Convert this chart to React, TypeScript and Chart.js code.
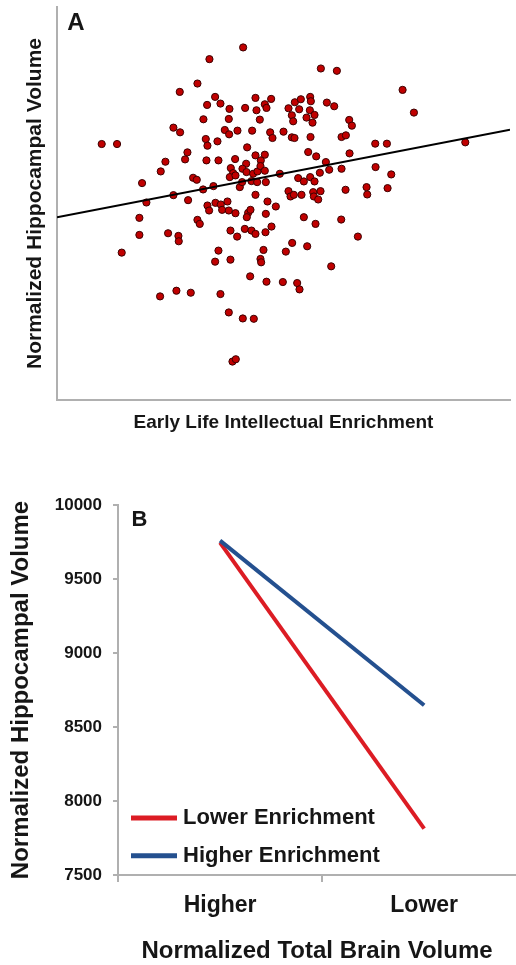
import React, { useEffect, useRef } from 'react';
import { Chart, registerables } from 'chart.js';

Chart.register(...registerables);

const FONT = '"Liberation Sans", Arial, Helvetica, sans-serif';
const TEXT = '#161616';
const AXIS_GRAY = '#b0b0b0';

// ---------- Panel A: scatter ----------
const enrichmentScores = [
  55.8, 45.7, 79.1, 83.9, 42.1, 36.8, 103.6, 47.4, 59.5, 64.2,
  45.0, 49.0, 51.7, 56.4, 59.8, 62.3, 62.8, 69.4, 71.3, 73.1,
  75.9, 76.1, 72.6, 75.8, 80.9, 83.1, 107.0, 70.4, 74.8, 77.2,
  43.9, 51.5, 60.8, 70.8, 76.6, 87.6, 88.4, 34.9, 36.9, 50.3,
  51.6, 54.1, 58.5, 63.9, 64.6, 67.9, 70.4, 71.2, 76.0, 85.3,
  86.6, 13.4, 18.0, 44.6, 45.1, 48.1, 57.0, 95.4, 98.9, 122.4,
  39.1, 38.4, 32.5, 31.1, 44.8, 48.4, 53.4, 56.7, 59.5, 62.3,
  61.1, 75.3, 77.7, 87.7, 80.6, 81.6, 85.3, 95.5, 100.2, 78.8,
  52.1, 52.8, 51.8, 53.5, 55.6, 56.8, 58.8, 60.1, 61.0, 62.3,
  66.8, 40.8, 41.9, 25.5, 43.8, 46.9, 54.8, 55.5, 58.3, 60.0,
  62.6, 72.3, 74.0, 75.9, 77.2, 69.4, 70.0, 71.0, 73.3, 76.8,
  77.0, 78.3, 79.0, 86.5, 92.8, 93.0, 99.1, 34.9, 26.8, 39.3,
  59.5, 45.1, 45.6, 47.5, 49.1, 49.5, 51.1, 51.5, 53.5, 57.3,
  58.0, 56.9, 63.1, 65.6, 62.6, 24.7, 42.1, 42.8, 74.0, 77.5,
  85.2, 24.7, 33.3, 36.4, 36.5, 52.0, 54.0, 56.3, 58.3, 59.5,
  62.5, 64.3, 90.2, 19.4, 48.4, 61.9, 70.5, 68.6, 75.0, 47.4,
  52.0, 61.0, 61.2, 82.2, 57.9, 62.8, 67.7, 72.0, 72.7, 30.9,
  35.8, 40.1, 49.0, 51.5, 55.7, 59.0, 52.6, 53.6,
];
const hippocampalVolumes = [
  105.5, 102.0, 99.2, 98.5, 94.7, 92.2, 92.8, 90.7, 90.4, 90.1,
  88.3, 88.7, 87.1, 87.4, 86.7, 88.5, 87.4, 87.3, 89.1, 90.0,
  90.7, 89.4, 87.0, 86.7, 89.0, 87.9, 86.0, 85.2, 84.5, 85.3,
  84.0, 84.1, 83.9, 83.4, 83.0, 83.8, 82.1, 81.5, 80.1, 80.8,
  79.5, 80.6, 80.6, 80.1, 78.4, 80.3, 78.6, 78.4, 78.7, 78.7,
  79.2, 76.6, 76.6, 78.1, 76.1, 77.4, 75.6, 76.7, 76.7, 77.1,
  74.1, 72.0, 71.3, 68.4, 71.7, 71.7, 72.1, 70.7, 73.2, 73.4,
  71.7, 74.2, 72.9, 73.8, 71.2, 68.9, 69.2, 69.7, 67.5, 68.0,
  69.4, 67.9, 66.7, 67.2, 69.2, 68.2, 67.7, 68.4, 70.0, 68.6,
  67.7, 66.5, 65.9, 64.9, 63.0, 64.0, 63.7, 65.2, 65.5, 65.2,
  65.2, 66.4, 65.4, 66.7, 65.4, 62.5, 60.9, 61.4, 61.4, 62.2,
  60.9, 60.0, 62.5, 62.9, 63.7, 61.5, 63.4, 61.3, 59.1, 59.8,
  61.4, 58.2, 56.7, 59.0, 58.5, 56.9, 59.4, 56.7, 55.9, 56.0,
  56.9, 54.7, 59.4, 57.9, 55.7, 54.5, 53.9, 52.7, 54.7, 52.7,
  54.0, 49.4, 49.9, 49.1, 47.5, 50.7, 48.9, 51.2, 50.7, 49.7,
  50.2, 51.9, 48.9, 44.1, 44.7, 44.9, 47.0, 44.4, 46.0, 41.4,
  42.0, 42.2, 41.2, 40.0, 37.0, 35.4, 35.3, 35.0, 33.1, 31.0,
  32.7, 32.1, 31.7, 26.2, 24.4, 24.3, 11.5, 12.2,
];
const trendX = [0, 135.8];
const trendY = [54.7, 80.9];
const axisRangeA = { xMin: 0, xMax: 135.8, yMin: 0, yMax: 117.6 };

// ---------- Panel B: interaction lines ----------
const brainVolumeGroups = ['Higher', 'Lower'];
const lowerEnrichment = [9746, 7813];
const higherEnrichment = [9759, 8647];
const yTicksB = [7500, 8000, 8500, 9000, 9500, 10000];
const xTickPositions = [-0.5, 0, 0.5, 1];

const panelLabelPlugin = {
  id: 'panelLabel',
  afterDraw(chart: any, _args: any, opts: any) {
    const { ctx, chartArea } = chart;
    ctx.save();
    ctx.font = `bold ${opts.size}px ${FONT}`;
    ctx.fillStyle = TEXT;
    ctx.textAlign = 'center';
    ctx.textBaseline = 'middle';
    ctx.fillText(opts.text, chartArea.left + opts.dx, chartArea.top + opts.dy);
    ctx.restore();
  },
};

const insideLegendPlugin = {
  id: 'insideLegend',
  afterDatasetsDraw(chart: any, _args: any, opts: any) {
    const { ctx, chartArea } = chart;
    chart.data.datasets.forEach((ds: any, i: number) => {
      const y = chartArea.bottom - opts.rows[i];
      const x0 = chartArea.left + opts.dx;
      ctx.save();
      ctx.strokeStyle = ds.borderColor;
      ctx.lineWidth = opts.lineWidth;
      ctx.beginPath();
      ctx.moveTo(x0, y);
      ctx.lineTo(x0 + opts.sample, y);
      ctx.stroke();
      ctx.font = `bold ${opts.size}px ${FONT}`;
      ctx.fillStyle = TEXT;
      ctx.textAlign = 'left';
      ctx.textBaseline = 'middle';
      ctx.fillText(ds.label, x0 + opts.sample + opts.gap, y);
      ctx.restore();
    });
  },
};

export default function App() {
  const refA = useRef<HTMLCanvasElement>(null);
  const refB = useRef<HTMLCanvasElement>(null);

  useEffect(() => {
    document.body.style.margin = '0';
    const chartA = new Chart(refA.current as HTMLCanvasElement, {
      type: 'scatter',
      data: {
        datasets: [
          {
            type: 'line',
            label: 'Fit',
            data: trendX.map((x, i) => ({ x, y: trendY[i] })),
            borderColor: '#000000',
            borderWidth: 2,
            pointRadius: 0,
            order: 0,
          } as any,
          {
            label: 'Participants',
            data: enrichmentScores.map((x, i) => ({ x, y: hippocampalVolumes[i] })),
            backgroundColor: '#c00000',
            borderColor: '#3b0000',
            borderWidth: 1,
            pointRadius: 3.6,
            order: 1,
          },
        ],
      },
      options: {
        responsive: false,
        animation: false,
        layout: { padding: { top: 7, right: 6, left: 0, bottom: 0 } },
        plugins: {
          legend: { display: false },
          tooltip: { enabled: false },
          panelLabel: { text: 'A', size: 24, dx: 19, dy: 16.5 },
        } as any,
        scales: {
          x: {
            type: 'linear',
            min: axisRangeA.xMin,
            max: axisRangeA.xMax,
            ticks: { display: false },
            grid: { display: false },
            border: { display: true, color: AXIS_GRAY, width: 2 },
            title: {
              display: true,
              text: 'Early Life Intellectual Enrichment',
              color: TEXT,
              font: { family: FONT, size: 19, weight: 'bold', lineHeight: 1.2 },
              padding: { top: 0, bottom: 16 },
            },
            afterFit: (s: any) => { s.height = 50; },
          },
          y: {
            type: 'linear',
            min: axisRangeA.yMin,
            max: axisRangeA.yMax,
            ticks: { display: false },
            grid: { display: false },
            border: { display: true, color: AXIS_GRAY, width: 2 },
            title: {
              display: true,
              text: 'Normalized Hippocampal Volume',
              color: TEXT,
              font: { family: FONT, size: 21, weight: 'bold', lineHeight: 1.2 },
              padding: { top: 23, bottom: 0 },
            },
            afterFit: (s: any) => { s.width = 57; },
          },
        },
      },
      plugins: [panelLabelPlugin],
    });

    const chartB = new Chart(refB.current as HTMLCanvasElement, {
      type: 'line',
      data: {
        datasets: [
          {
            label: 'Lower Enrichment',
            data: brainVolumeGroups.map((_, i) => ({ x: i, y: lowerEnrichment[i] })),
            borderColor: '#dc1c24',
            borderWidth: 4,
            pointRadius: 0,
            fill: false,
            order: 1,
          },
          {
            label: 'Higher Enrichment',
            data: brainVolumeGroups.map((_, i) => ({ x: i, y: higherEnrichment[i] })),
            borderColor: '#24508f',
            borderWidth: 4,
            pointRadius: 0,
            fill: false,
            order: 0,
          },
        ],
      },
      options: {
        responsive: false,
        animation: false,
        layout: { padding: { top: 55, right: 0, left: 0, bottom: 0 } },
        plugins: {
          legend: { display: false },
          tooltip: { enabled: false },
          panelLabel: { text: 'B', size: 22, dx: 21.5, dy: 14.5 },
          insideLegend: { rows: [57, 19.3], dx: 13, sample: 46, gap: 6, lineWidth: 5, size: 22 },
        } as any,
        scales: {
          x: {
            type: 'linear',
            min: -0.5,
            max: 1.45,
            afterBuildTicks: (s: any) => { s.ticks = xTickPositions.map((v) => ({ value: v })); },
            ticks: {
              autoSkip: false,
              maxRotation: 0,
              padding: 10,
              color: TEXT,
              font: { family: FONT, size: 23, weight: 'bold', lineHeight: 1.2 },
              callback: (v: any) => (Number.isInteger(v) ? brainVolumeGroups[v] : ''),
            },
            grid: {
              drawOnChartArea: false,
              tickLength: 7,
              lineWidth: 2,
              color: (c: any) => (c.tick && !Number.isInteger(c.tick.value) ? AXIS_GRAY : 'rgba(0,0,0,0)'),
            },
            border: { display: true, color: AXIS_GRAY, width: 2 },
            title: {
              display: true,
              text: 'Normalized Total Brain Volume',
              color: TEXT,
              font: { family: FONT, size: 24, weight: 'bold', lineHeight: 1.1 },
              padding: { top: 0, bottom: 0 },
            },
            afterFit: (s: any) => { s.height = 90; },
          },
          y: {
            type: 'linear',
            min: yTicksB[0],
            max: yTicksB[yTicksB.length - 1],
            afterBuildTicks: (s: any) => { s.ticks = yTicksB.map((v) => ({ value: v })); },
            ticks: {
              padding: 11,
              color: TEXT,
              font: { family: FONT, size: 17, weight: 'bold' },
              callback: (v: any) => String(v),
            },
            grid: { drawOnChartArea: false, tickLength: 5, lineWidth: 2, color: AXIS_GRAY },
            border: { display: true, color: AXIS_GRAY, width: 2 },
            title: {
              display: true,
              text: 'Normalized Hippocampal Volume',
              color: TEXT,
              font: { family: FONT, size: 24, weight: 'bold', lineHeight: 1.2 },
              padding: { top: 7, bottom: 0 },
            },
            afterFit: (s: any) => { s.width = 118; },
          },
        },
      },
      plugins: [panelLabelPlugin, insideLegendPlugin],
    });

    return () => {
      chartA.destroy();
      chartB.destroy();
    };
  }, []);

  return (
    <div style={{ width: 516, height: 965, background: '#ffffff' }}>
      <canvas ref={refA} width={516} height={450} style={{ display: 'block', width: 516, height: 450 }} />
      <canvas ref={refB} width={516} height={515} style={{ display: 'block', width: 516, height: 515 }} />
    </div>
  );
}
